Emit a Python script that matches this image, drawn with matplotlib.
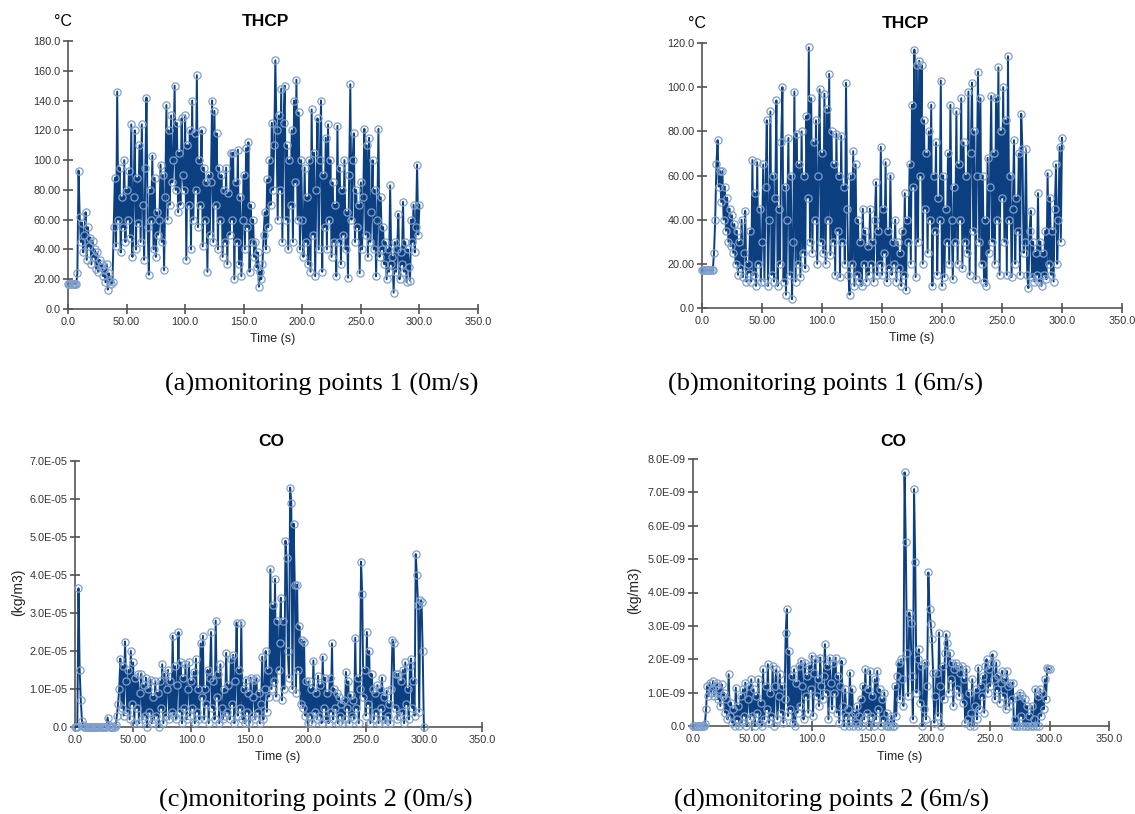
import numpy as np
import matplotlib
matplotlib.use("Agg")
from matplotlib import pyplot as plt

# sample times (s), one value per second
time_s = np.arange(0, 301, 1)

# (a) THCP, monitoring point 1, 0 m/s  [degC]
thcp_0 = [
    17, 17, 17, 17, 17, 17, 17, 17, 24, 93,
    62, 45, 58, 38, 50, 65, 33, 55, 42, 48,
    30, 46, 35, 40, 27, 38, 25, 33, 28, 30,
    22, 26, 18, 30, 13, 24, 19, 17, 18, 55,
    88, 42, 146, 60, 95, 38, 75, 55, 100, 45,
    80, 60, 93, 48, 124, 35, 75, 120, 40, 88,
    58, 110, 45, 124, 70, 33, 95, 142, 55, 23,
    80, 60, 103, 40, 88, 35, 65, 50, 60, 97,
    45, 90, 26, 75, 137, 60, 120, 70, 130, 85,
    100, 150, 80, 125, 65, 105, 70, 128, 90, 80,
    130, 33, 110, 70, 120, 40, 140, 60, 118, 80,
    157, 55, 100, 70, 120, 42, 95, 60, 85, 25,
    90, 50, 85, 140, 45, 133, 70, 118, 40, 95,
    60, 90, 35, 80, 45, 95, 30, 78, 50, 105,
    60, 105, 20, 85, 45, 107, 30, 75, 22, 60,
    90, 40, 108, 55, 112, 25, 70, 45, 60, 35,
    45, 28, 38, 15, 25, 20, 30, 50, 65, 40,
    87, 55, 100, 70, 125, 80, 110, 167, 120, 60,
    130, 80, 148, 45, 125, 150, 60, 110, 40, 100,
    70, 120, 45, 140, 85, 154, 60, 132, 40, 100,
    60, 35, 95, 45, 75, 30, 100, 25, 134, 50,
    105, 22, 80, 128, 40, 100, 140, 25, 90, 55,
    115, 40, 124, 60, 100, 35, 85, 45, 70, 22,
    123, 45, 95, 30, 80, 50, 100, 40, 65, 21,
    90, 151, 60, 100, 118, 45, 80, 55, 70, 24,
    85, 40, 75, 121, 50, 110, 35, 115, 45, 65,
    100, 40, 80, 22, 60, 121, 35, 75, 40, 55,
    30, 45, 20, 40, 25, 83, 30, 35, 11, 45,
    25, 40, 64, 20, 38, 30, 72, 25, 45, 18,
    40, 28, 19, 60, 45, 70, 38, 55, 97, 50,
    70,
]

# (b) THCP, monitoring point 1, 6 m/s  [degC]
thcp_6 = [
    17, 17, 17, 17, 17, 17, 17, 17, 17, 17,
    25, 40, 65, 76, 55, 62, 48, 62, 40, 55,
    35, 50, 30, 45, 28, 42, 25, 38, 20, 35,
    15, 30, 18, 40, 14, 25, 44, 12, 20, 16,
    35, 12, 67, 15, 52, 10, 66, 20, 45, 12,
    30, 65, 12, 55, 85, 10, 40, 89, 15, 60,
    12, 50, 94, 10, 45, 20, 75, 100, 12, 55,
    6, 40, 77, 15, 60, 4, 30, 98, 12, 79,
    20, 65, 14, 80, 25, 60, 18, 87, 50, 118,
    30, 95, 25, 75, 40, 85, 20, 60, 99, 30,
    70, 25, 97, 20, 90, 40, 106, 24, 80, 30,
    65, 15, 79, 35, 60, 14, 78, 30, 55, 20,
    102, 45, 15, 6, 60, 20, 71, 10, 65, 15,
    40, 12, 30, 10, 45, 20, 35, 12, 28, 15,
    45, 20, 30, 12, 40, 57, 15, 35, 20, 73,
    15, 45, 25, 66, 12, 35, 18, 60, 15, 30,
    20, 40, 12, 30, 18, 25, 10, 35, 15, 52,
    8, 40, 30, 65, 20, 92, 55, 117, 14, 110,
    30, 112, 60, 110, 20, 85, 45, 70, 25, 80,
    40, 92, 10, 60, 35, 75, 15, 50, 40, 103,
    10, 60, 14, 45, 30, 70, 20, 92, 40, 13,
    55, 30, 89, 20, 65, 40, 95, 18, 75, 30,
    60, 25, 98, 15, 70, 102, 35, 80, 13, 60,
    107, 30, 95, 20, 60, 12, 40, 10, 68, 25,
    55, 96, 30, 70, 20, 95, 40, 109, 15, 80,
    50, 100, 30, 85, 15, 114, 40, 60, 14, 45,
    76, 20, 50, 35, 70, 15, 88, 72, 25, 30,
    72, 15, 9, 35, 44, 14, 30, 12, 25, 15,
    52, 12, 30, 10, 25, 15, 35, 13, 61, 20,
    50, 15, 35, 12, 45, 65, 20, 40, 73, 30,
    77,
]

# (c) CO, monitoring point 2, 0 m/s  [1E-05 kg/m3]
co_0 = [
    0, 0, 0, 3.65, 1.5, 0.7, 0.15, 0.05, 0, 0,
    0, 0, 0, 0, 0, 0, 0, 0, 0, 0,
    0, 0, 0, 0, 0, 0, 0, 0, 0.25, 0.05,
    0, 0, 0, 0, 0, 0.05, 0.3, 0.6, 1.0, 1.8,
    0.5, 1.6, 0.3, 2.25, 1.2, 0.4, 1.5, 0.2, 2.0, 0.6,
    1.7, 0.1, 1.3, 0.5, 1.4, 0.1, 0.9, 1.4, 0.2, 1.1,
    0.3, 1.3, 0.0, 1.0, 0.4, 1.25, 0.1, 0.8, 0.2, 1.2,
    0.3, 0.9, 0.0, 1.2, 0.5, 1.65, 0.1, 1.4, 0.3, 1.0,
    1.5, 0.2, 1.2, 0.4, 2.4, 0.3, 1.6, 0.2, 1.1, 2.5,
    0.4, 1.7, 0.1, 1.3, 0.5, 1.65, 0.2, 1.0, 1.7, 0.3,
    1.2, 0.5, 1.45, 0.1, 1.8, 0.4, 1.0, 0.2, 2.2, 0.8,
    2.4, 0.2, 1.0, 0.6, 1.5, 0.1, 1.3, 2.5, 0.5, 1.2,
    0.2, 2.8, 0.8, 1.4, 0.1, 1.65, 0.5, 0.2, 1.0, 0.3,
    1.95, 0.4, 1.1, 0.2, 1.8, 0.6, 1.9, 0.1, 1.2, 2.75,
    0.3, 1.5, 0.5, 2.75, 0.2, 1.0, 0.1, 1.25, 0.4, 0.9,
    0.1, 1.3, 0.3, 0.8, 1.25, 0.2, 1.3, 0.4, 0.9, 0.1,
    0.6, 1.85, 0.2, 1.0, 2.0, 0.4, 1.5, 0.8, 4.15, 1.0,
    3.2, 1.2, 3.9, 0.8, 2.8, 1.5, 2.2, 3.4, 0.7, 2.8,
    1.0, 4.9, 4.45, 2.0, 1.3, 6.3, 5.9, 1.0, 5.35, 3.75,
    0.9, 3.75, 1.5, 2.65, 0.6, 2.3, 0.5, 2.25, 0.3, 1.2,
    0.1, 1.2, 0.3, 1.0, 0.1, 1.75, 0.4, 0.9, 0.2, 1.35,
    0.3, 1.1, 0.1, 1.85, 0.5, 1.3, 0.2, 0.9, 0.1, 1.3,
    0.4, 2.2, 0.2, 1.0, 0.5, 0.9, 0.1, 0.8, 0.3, 0.6,
    0.1, 0.7, 0.2, 1.45, 0.5, 1.2, 0.1, 0.85, 0.3, 0.7,
    0.2, 2.35, 0.5, 1.3, 0.1, 1.0, 4.35, 3.5, 0.8, 1.5,
    0.3, 2.5, 0.6, 2.0, 0.1, 1.4, 1.0, 0.2, 0.9, 0.4,
    1.1, 0.1, 1.0, 0.5, 1.3, 0.2, 0.8, 0.1, 0.95, 0.3,
    0.6, 0.1, 1.0, 2.3, 2.2, 0.5, 1.4, 0.2, 1.4, 0.3,
    1.2, 0.4, 1.5, 0.1, 1.7, 0.6, 1.0, 0.2, 1.6, 1.8,
    0.5, 1.2, 0.3, 4.55, 4.0, 3.2, 0.4, 3.35, 3.3, 2.0,
    0,
]

# (d) CO, monitoring point 2, 6 m/s  [1E-09 kg/m3]
co_6 = [
    0, 0, 0, 0, 0, 0, 0, 0, 0, 0,
    0.05, 0.5, 1.2, 0.9, 1.3, 1.0, 1.1, 1.35, 0.9, 1.2,
    1.3, 0.8, 1.1, 0.6, 1.25, 0.9, 1.0, 0.4, 0.8, 0.2,
    1.55, 0.3, 0.7, 0.1, 0.5, 0.0, 1.15, 0.2, 0.6, 0.0,
    0.9, 0.1, 1.1, 0.3, 1.3, 0.0, 0.8, 1.2, 0.2, 1.4,
    0.3, 1.1, 0.0, 0.9, 0.4, 1.4, 0.1, 0.7, 0.0, 1.7,
    0.2, 1.2, 0.5, 1.85, 0.1, 1.0, 0.3, 1.8, 0.0, 1.2,
    1.7, 0.2, 0.9, 1.55, 0.4, 1.2, 0.1, 0.8, 2.8, 3.5,
    0.3, 2.25, 0.5, 1.5, 0.1, 1.7, 0.0, 1.3, 0.4, 1.8,
    0.6, 1.95, 1.2, 0.2, 1.9, 0.9, 1.5, 0.4, 1.8, 1.1,
    2.1, 0.3, 1.6, 2.0, 0.9, 1.4, 0.6, 2.05, 1.2, 0.8,
    1.5, 2.45, 1.0, 1.8, 0.2, 2.05, 1.3, 0.5, 1.9, 1.0,
    2.05, 0.4, 1.5, 0.1, 1.2, 1.95, 0.6, 0.0, 1.1, 0.3,
    0.5, 0.0, 1.6, 0.3, 1.1, 0.0, 0.4, 0.1, 0.6, 0.0,
    0.3, 0.8, 0.0, 1.2, 0.2, 1.7, 0.4, 1.1, 0.0, 1.65,
    0.3, 0.9, 0.0, 1.4, 0.2, 1.65, 0.5, 1.1, 0.0, 0.8,
    0.2, 1.0, 0.0, 0.4, 0.0, 0.1, 0.0, 0.3, 0.0, 0.0,
    1.2, 0.3, 1.5, 1.9, 0.8, 2.0, 1.4, 0.6, 7.6, 5.5,
    2.2, 0.9, 3.4, 3.1, 1.5, 0.2, 7.1, 4.9, 1.0, 2.0,
    2.3, 0.7, 1.8, 0.0, 0.5, 1.9, 0.2, 1.2, 4.6, 3.5,
    3.05, 2.6, 1.6, 0.1, 0.9, 1.6, 0.3, 2.8, 1.2, 0.0,
    1.8, 0.8, 2.2, 2.75, 2.5, 1.0, 2.2, 1.4, 1.9, 0.6,
    1.7, 1.9, 1.1, 1.8, 0.9, 1.6, 1.8, 0.7, 1.4, 0.1,
    1.7, 0.2, 1.0, 0.0, 0.4, 1.4, 0.0, 0.6, 1.1, 0.2,
    1.75, 0.5, 1.2, 0.9, 1.5, 0.4, 1.8, 2.0, 1.0, 1.7,
    1.2, 1.9, 2.15, 1.4, 0.8, 1.9, 1.1, 1.5, 0.7, 1.3,
    1.65, 0.9, 1.4, 0.5, 1.65, 1.2, 0.6, 1.3, 0.8, 1.3,
    0.0, 0.2, 0.0, 0.9, 0.0, 1.0, 0.3, 0.9, 0.0, 0.8,
    0.0, 0.6, 0.0, 0.3, 0.0, 0.6, 0.0, 0.2, 1.1, 0.0,
    0.9, 0.0, 1.1, 0.3, 1.0, 0.5, 1.4, 0.8, 1.75, 1.7,
    1.7,
]

x_ticks = [0, 50, 100, 150, 200, 250, 300, 350]
x_labels = ["0.0", "50.00", "100.0", "150.0", "200.0", "250.0", "300.0", "350.0"]
ya_ticks = [0, 20, 40, 60, 80, 100, 120, 140, 160, 180]
ya_labels = ["0.0", "20.00", "40.00", "60.00", "80.00", "100.0", "120.0", "140.0", "160.0", "180.0"]
yb_ticks = [0, 20, 40, 60, 80, 100, 120]
yb_labels = ["0.0", "20.00", "40.00", "60.00", "80.00", "100.0", "120.0"]
yc_ticks = [0, 1, 2, 3, 4, 5, 6, 7]
yc_labels = ["0.0", "1.0E-05", "2.0E-05", "3.0E-05", "4.0E-05", "5.0E-05", "6.0E-05", "7.0E-05"]
yd_ticks = [0, 1, 2, 3, 4, 5, 6, 7, 8]
yd_labels = ["0.0", "1.0E-09", "2.0E-09", "3.0E-09", "4.0E-09", "5.0E-09", "6.0E-09", "7.0E-09", "8.0E-09"]

captions = ["(a)monitoring points 1 (0m/s)", "(b)monitoring points 1 (6m/s)",
            "(c)monitoring points 2 (0m/s)", "(d)monitoring points 2 (6m/s)"]

W, H = 1135, 814
LINE = "#0b3f80"
RING = "#7f9fcc"
SANS = "Liberation Sans"
SERIF = "Liberation Serif"

fig = plt.figure(figsize=(W / 100, H / 100), dpi=100)


def px(x, y):
    return x / W, 1 - y / H


def panel(box, vals, yticks, ylabels, ymax):
    l, t, r, b = box
    ax = fig.add_axes([l / W, 1 - b / H, (r - l) / W, (b - t) / H])
    ax.plot(time_s, vals, "-o", color=LINE, lw=1.4, ms=5.2, mfc="none",
            mec=RING, mew=0.9, clip_on=False, zorder=3)
    ax.set_xlim(0, 350)
    ax.set_ylim(0, ymax)
    ax.set_xticks(x_ticks)
    ax.set_xticklabels(x_labels)
    ax.set_yticks(yticks)
    ax.set_yticklabels(ylabels)
    for s in ["top", "right"]:
        ax.spines[s].set_visible(False)
    for s in ["left", "bottom"]:
        ax.spines[s].set_color("#555555")
        ax.spines[s].set_linewidth(1.2)
    ax.tick_params(direction="inout", length=7, width=1.1, color="#444444",
                   labelsize=7.8, labelcolor="#333333", pad=2)
    for lab in ax.get_xticklabels() + ax.get_yticklabels():
        lab.set_family(SANS)
    return ax


panel((68, 41, 478, 309), thcp_0, ya_ticks, ya_labels, 180)
panel((702, 43, 1122, 308), thcp_6, yb_ticks, yb_labels, 120)
panel((75, 461, 482, 727), co_0, yc_ticks, yc_labels, 7)
panel((693, 459, 1109, 726), co_6, yd_ticks, yd_labels, 8)

# titles, units, axis names
for (x, y, s) in [(265, 21, "THCP"), (905, 23, "THCP"), (271, 442, "CO"), (893, 442, "CO")]:
    fig.text(*px(x, y), s, ha="center", va="center", fontsize=12.5,
             fontweight="bold", family=SANS)
for (x, y) in [(63, 22), (697, 24)]:
    fig.text(*px(x, y), "°C", ha="center", va="center", fontsize=11.5, family=SANS)
for (x, y) in [(18, 592), (634, 590)]:
    fig.text(*px(x, y), "(kg/m3)", ha="center", va="center", fontsize=10,
             rotation=90, family=SANS, color="#222222")
for (x, y) in [(273, 339), (912, 338), (278, 757), (900, 757)]:
    fig.text(*px(x, y), "Time (s)", ha="center", va="center", fontsize=9,
             family=SANS, color="#222222")

for (x, y), s in zip([(322, 384), (826, 384), (316, 800), (831, 800)], captions):
    fig.text(*px(x, y), s, ha="center", va="center", fontsize=19, family=SERIF)

fig.savefig("out.png", dpi=100)
